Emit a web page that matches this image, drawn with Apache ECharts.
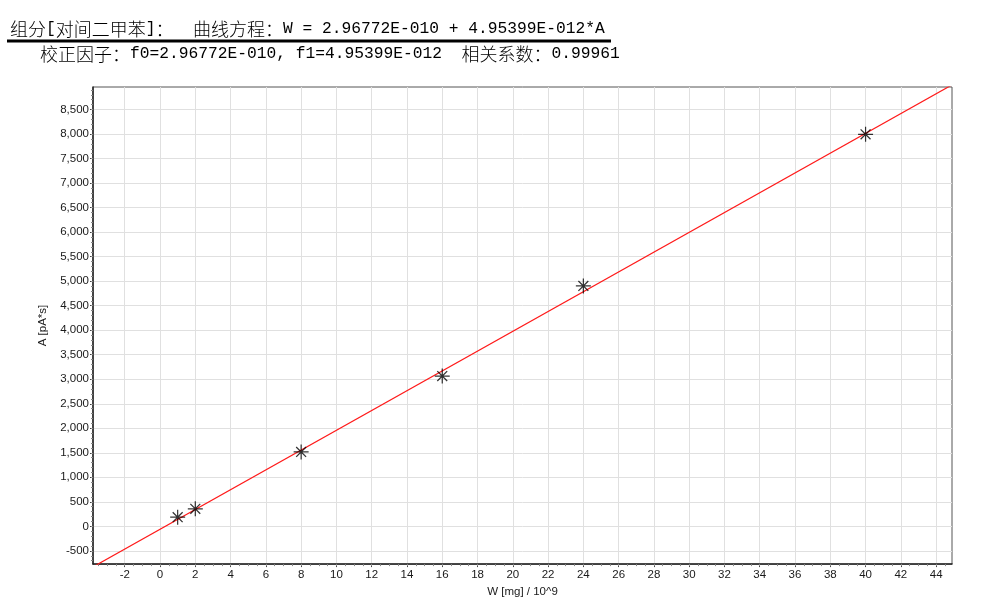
<!DOCTYPE html>
<html>
<head>
<meta charset="utf-8">
<script src="https://cdn.jsdelivr.net/npm/echarts@6/dist/echarts.min.js"></script>
<style>html,body{margin:0;padding:0;background:#fff;}#c{width:982px;height:603px;}</style>
</head>
<body>
<div id="c"></div>
<script>
// ---- data ----
const wValues = [1, 2, 8, 16, 24, 40];            // W [mg] / 10^9
const aValues = [188, 358, 1518, 3065, 4904, 7994]; // A [pA*s]
const f0 = 0.296772;     // 2.96772E-010 mg expressed in 10^-9 mg
const f1 = 0.00495399;   // 4.95399E-012 mg per pA*s in 10^-9 mg
const lineARange = [-1000, 9200];
const xTickValues = [-2, 0, 2, 4, 6, 8, 10, 12, 14, 16, 18, 20, 22, 24, 26, 28, 30, 32, 34, 36, 38, 40, 42, 44];
const yTickValues = [-500, 0, 500, 1000, 1500, 2000, 2500, 3000, 3500, 4000, 4500, 5000, 5500, 6000, 6500, 7000, 7500, 8000, 8500];
const xRange = [-3.8, 44.9];
const yRange = [-770, 8960];
const titleLine1A = '组分';
const titleLine1B = '[';
const titleLine1C = '对间二甲苯';
const titleLine1D = ']';
const titleLine1E = '：';
const titleLine1F = '曲线方程：';
const equation = 'W = 2.96772E-010 + 4.95399E-012*A';
const line2A = '校正因子：';
const line2B = 'f0=2.96772E-010, f1=4.95399E-012';
const line2C = '相关系数：';
const line2D = '0.99961';

// minor ticks
const xMinor = [];
for (let v = -3.5; v <= 44.9; v += 0.5) xMinor.push(Math.round(v * 10) / 10);
const yMinor = [];
for (let v = -700; v <= 8960; v += 100) yMinor.push(v);

const points = wValues.map((w, i) => [w, aValues[i]]);
const fitLine = lineARange.map(a => [f0 + f1 * a, a]);

const asterisk = 'path://M46 0L54 0L54 100L46 100Z M0 46L100 46L100 54L0 54Z M14 20L20 14L86 80L80 86Z M80 14L86 20L20 86L14 80Z';

const cjk = '"Noto Sans CJK SC", sans-serif';
const mono = '"Liberation Mono", monospace';
const sans = '"Liberation Sans", Arial, sans-serif';

const richStyles = {
  c: { fontFamily: cjk, fontSize: 18, fontWeight: 300, color: '#000', lineHeight: 22 },
  m: { fontFamily: mono, fontSize: 16.25, fontWeight: 'normal', color: '#000', lineHeight: 22 }
};

const chart = echarts.init(document.getElementById('c'));
chart.setOption({
  animation: false,
  backgroundColor: '#fff',
  title: [{
    left: 10, top: 18, padding: 0,
    text: '{c|' + titleLine1A + '}{m|' + titleLine1B + '}{c|' + titleLine1C + '}{m|' + titleLine1D + '}{c|' + titleLine1E + '}{m|  }{c|' + titleLine1F + '}{m|' + equation + '}',
    textStyle: { rich: richStyles }
  }, {
    left: 40, top: 43, padding: 0,
    text: '{c|' + line2A + '}{m|' + line2B + '  }{c|' + line2C + '}{m|' + line2D + '}',
    textStyle: { rich: richStyles }
  }],
  graphic: [{
    type: 'line', shape: { x1: 7, y1: 41, x2: 611, y2: 41 },
    style: { stroke: '#000', lineWidth: 3 }
  }],
  grid: {
    left: 93, right: 30, top: 87, bottom: 35,
    show: true, borderColor: '#555', borderWidth: 1, backgroundColor: 'transparent'
  },
  xAxis: [{
    type: 'value', min: xRange[0], max: xRange[1],
    name: 'W [mg] / 10^9', nameLocation: 'middle', nameGap: 17,
    nameTextStyle: { fontFamily: sans, fontSize: 11.5, color: '#1a1a1a' },
    axisLine: { show: true, onZero: false, lineStyle: { color: '#222', width: 1.5 } },
    axisTick: { show: true, customValues: xTickValues, length: 3, lineStyle: { color: '#444' } },
    axisLabel: { customValues: xTickValues, fontFamily: sans, fontSize: 11.5, color: '#1a1a1a', margin: 5 },
    splitLine: { show: true, lineStyle: { color: '#e0e0e0', width: 1 } }
  }, {
    type: 'value', min: xRange[0], max: xRange[1], position: 'bottom', gridIndex: 0,
    axisLine: { show: false, onZero: false }, axisLabel: { show: false }, splitLine: { show: false },
    axisTick: { show: true, customValues: xMinor, length: 2, lineStyle: { color: '#888' } }
  }],
  yAxis: [{
    type: 'value', min: yRange[0], max: yRange[1],
    name: 'A [pA*s]', nameLocation: 'middle', nameGap: 37,
    nameTextStyle: { fontFamily: sans, fontSize: 11.5, color: '#1a1a1a' },
    axisLine: { show: true, onZero: false, lineStyle: { color: '#222', width: 1.5 } },
    axisTick: { show: true, customValues: yTickValues, length: 3, lineStyle: { color: '#444' } },
    axisLabel: { customValues: yTickValues, fontFamily: sans, fontSize: 11.5, color: '#1a1a1a', margin: 4,
      formatter: v => Number(v).toLocaleString('en-US') },
    splitLine: { show: true, lineStyle: { color: '#e0e0e0', width: 1 } }
  }, {
    type: 'value', min: yRange[0], max: yRange[1], position: 'left', gridIndex: 0,
    axisLine: { show: false, onZero: false }, axisLabel: { show: false }, splitLine: { show: false },
    axisTick: { show: true, customValues: yMinor, length: 2, lineStyle: { color: '#888' } }
  }],
  series: [{
    type: 'line', data: fitLine, showSymbol: false, symbol: 'none',
    lineStyle: { color: '#ff1a1a', width: 1.2 }, clip: true, silent: true, z: 2
  }, {
    type: 'scatter', data: points, symbol: asterisk, symbolSize: 15,
    itemStyle: { color: '#000' }, z: 3
  }]
});
</script>
</body>
</html>
